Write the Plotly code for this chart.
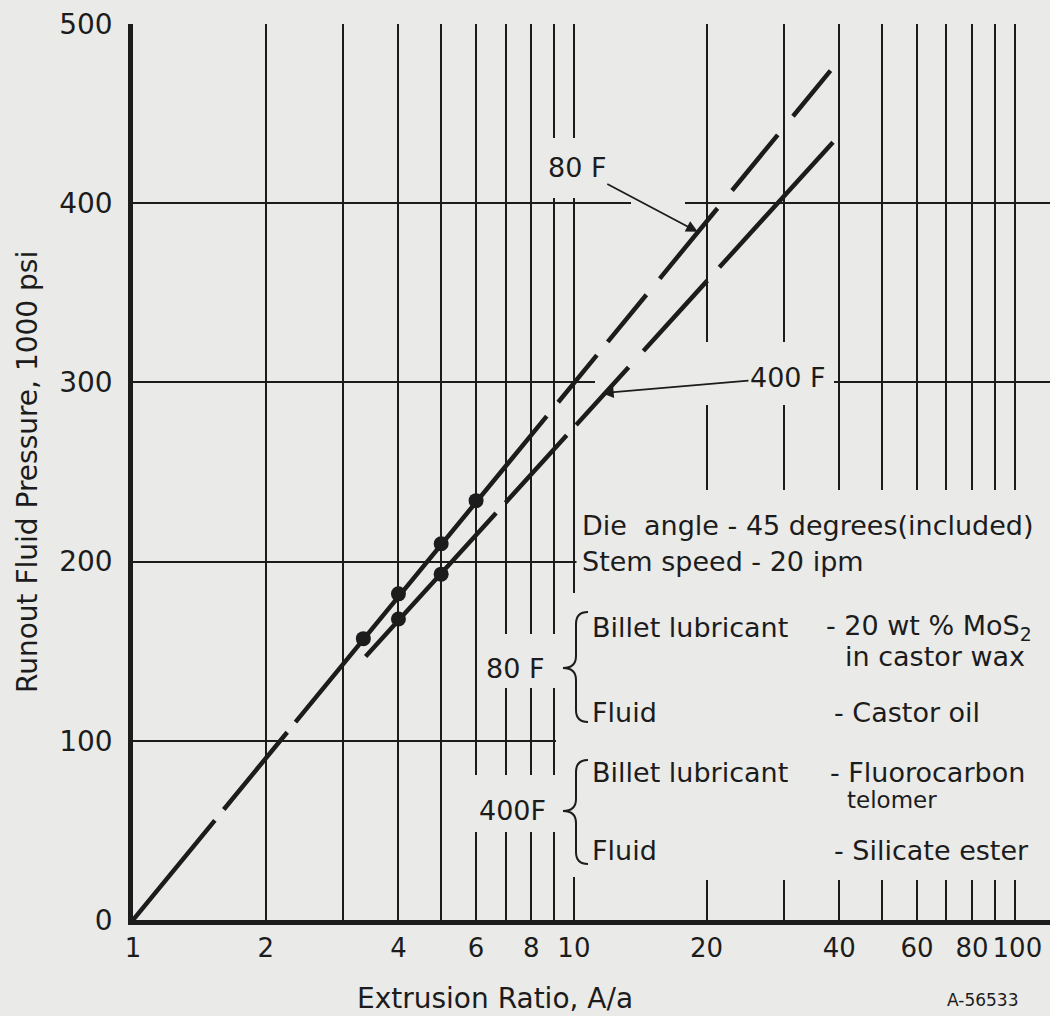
import numpy as np
import plotly.graph_objects as go

# ---------------- data ----------------
# fitted lines (end points on the semi-log plot)
line80_x = [1.0, 38.2]
line80_y = [0.0, 474.0]
line400_x = [3.37, 38.7]
line400_y = [147.0, 434.0]
# measured points
pts80_x = [3.33, 4.0, 5.0, 6.0]
pts80_y = [157.0, 182.0, 210.0, 234.0]
pts400_x = [4.0, 5.0]
pts400_y = [168.0, 193.0]

# axes
x_grid = [1, 2, 3, 4, 5, 6, 7, 8, 9, 10, 20, 30, 40, 50, 60, 70, 80, 90, 100]
x_labels = {1: "1", 2: "2", 4: "4", 6: "6", 8: "8", 10: "10", 20: "20",
            40: "40", 60: "60", 80: "80", 100: "\u2009100"}
y_ticks = [0, 100, 200, 300, 400, 500]
X_MAX = 120.2
Y_MAX = 500

# ---------------- styling ----------------
BG = "#eaeae8"
INK = "#1c1c1c"
FONT = "DejaVu Sans"
W, H = 1050, 1016
L, R, T, B = 133, 1050, 24, 920  # plot area in pixels


def pxx(px):
    return (px - L) / (R - L)


def pxy(py):
    return (B - py) / (B - T)


def px2x(px):  # pixel -> data value on the log axis (for the grid masks)
    return 10 ** (pxx(px) * np.log10(X_MAX))


def px2y(py):
    return pxy(py) * Y_MAX


fig = go.Figure()

# ---------------- masks that break the grid behind the lettering ----------------
masks = [
    (548, 612, 138, 198),    # "80 F" top label
    (631, 685, 198, 206),    # 400 line gap at the arrow
    (595, 834, 342, 405),    # "400 F" label
    (556, 1052, 593, 877),   # text block (incl. line 10)
    (576.5, 1052, 490, 880), # text block
    (495, 558, 634, 688),    # brace label 80 F
    (470, 558, 775, 832),    # brace label 400 F
]
for x0, x1, y0, y1 in masks:
    xa, xb, ya, yb = px2x(x0), px2x(x1), px2y(y1), px2y(y0)
    fig.add_trace(go.Scatter(x=[xa, xb, xb, xa, xa], y=[ya, ya, yb, yb, ya],
                             mode="lines", fill="toself", fillcolor=BG,
                             line=dict(width=0, color=BG), hoverinfo="skip"))

# lines (dash patterns reproduce the broken segments of the original)
fig.add_trace(go.Scatter(x=line80_x, y=line80_y, mode="lines",
                         line=dict(color=INK, width=4.5,
                                   dash="129px,14px,100px,13px,396px,18px,61px,17px,61px,21px,91px,23px,72px,24px,60px,40px"),
                         hoverinfo="skip"))
fig.add_trace(go.Scatter(x=line400_x, y=line400_y, mode="lines",
                         line=dict(color=INK, width=4.5,
                                   dash="194px,14px,91px,14px,78px,22px,95px,18px,170px,40px"),
                         hoverinfo="skip"))
fig.add_trace(go.Scatter(x=pts80_x, y=pts80_y, mode="markers",
                         marker=dict(color=INK, size=15)))
fig.add_trace(go.Scatter(x=pts400_x, y=pts400_y, mode="markers",
                         marker=dict(color=INK, size=15)))


def brace(xr, xs, xt, yt, yb, ym, r):
    p = lambda x, y: f"{pxx(x):.5f},{pxy(y):.5f}"
    return ("M " + p(xr, yt) + " Q " + p(xs, yt) + " " + p(xs, yt + r) +
            " L " + p(xs, ym - r) + " Q " + p(xs, ym) + " " + p(xt, ym) +
            " Q " + p(xs, ym) + " " + p(xs, ym + r) +
            " L " + p(xs, yb - r) + " Q " + p(xs, yb) + " " + p(xr, yb))


shapes = []
for yt, yb, ym in [(612, 722, 668), (760, 864, 811)]:
    shapes.append(dict(type="path", xref="paper", yref="paper",
                       path=brace(588, 576, 563, yt, yb, ym, 12),
                       line=dict(color=INK, width=2), layer="above"))

# ---------------- annotations ----------------
ann = []


def txt(text, px, py, size=27, xanchor="left", **kw):
    ann.append(dict(text=text, xref="paper", yref="paper", x=pxx(px), y=pxy(py),
                    xanchor=xanchor, yanchor="middle", showarrow=False,
                    font=dict(family=FONT, size=size, color=INK), **kw))


txt("Die  angle - 45 degrees(included)", 580, 525)
txt("Stem speed - 20 ipm", 580, 561)
txt("Billet lubricant", 590, 627)
txt("- 20 wt % MoS<sub>2</sub>", 824, 627)
txt("in castor wax", 843, 656)
txt("Fluid", 590, 712)
txt("- Castor oil", 832, 712)
txt("Billet lubricant", 590, 772)
txt("- Fluorocarbon", 828, 772)
txt("telomer", 845, 800, size=23)
txt("Fluid", 590, 850)
txt("- Silicate ester", 832, 850)
txt("80 F", 515, 668, xanchor="center")
txt("400F", 512, 810, xanchor="center")
txt("Extrusion Ratio, A/a", 495, 998, size=28, xanchor="center")
txt("A-56533", 982, 1000, size=17, xanchor="center")
ann.append(dict(text="Runout Fluid Pressure, 1000 psi", xref="paper", yref="paper",
                x=pxx(27), y=pxy(472), xanchor="center", yanchor="middle",
                textangle=-90, showarrow=False,
                font=dict(family=FONT, size=28, color=INK)))

# arrow labels pointing at the lines
ann.append(dict(text="80 F", x=np.log10(19.1), y=384, xref="x", yref="y",
                ax=-121, ay=-64, showarrow=True, arrowhead=2, arrowsize=1.3,
                arrowwidth=1.8, arrowcolor=INK, standoff=0,
                font=dict(family=FONT, size=27, color=INK)))
ann.append(dict(text="400 F", x=np.log10(11.58), y=294, xref="x", yref="y",
                ax=186, ay=-16, showarrow=True, arrowhead=2, arrowsize=1.3,
                arrowwidth=1.8, arrowcolor=INK, standoff=0,
                font=dict(family=FONT, size=27, color=INK)))

fig.update_layout(
    width=W, height=H,
    margin=dict(l=L, r=W - R, t=T, b=H - B, pad=0),
    paper_bgcolor=BG, plot_bgcolor=BG,
    showlegend=False,
    font=dict(family=FONT, size=28, color=INK),
    shapes=shapes, annotations=ann,
    xaxis=dict(type="log", range=[0, np.log10(X_MAX)],
               tickmode="array", tickvals=x_grid,
               ticktext=[x_labels.get(v, "") for v in x_grid],
               tickangle=0,
               showgrid=True, gridcolor=INK, gridwidth=1.8,
               showline=True, linecolor=INK, linewidth=4.5,
               ticks="", zeroline=False, ticklabelstandoff=1,
               tickfont=dict(family=FONT, size=26, color=INK)),
    yaxis=dict(range=[0, Y_MAX], tickmode="array", tickvals=y_ticks,
               showgrid=True, gridcolor=INK, gridwidth=1.8,
               showline=True, linecolor=INK, linewidth=4.5,
               ticks="", zeroline=False, ticklabelstandoff=10,
               tickfont=dict(family=FONT, size=28, color=INK)),
)

fig.write_html("out.html", config={"displayModeBar": False},
               post_script="document.body.style.margin='0px';document.body.style.padding='0px';document.body.style.background='" + BG + "';")
